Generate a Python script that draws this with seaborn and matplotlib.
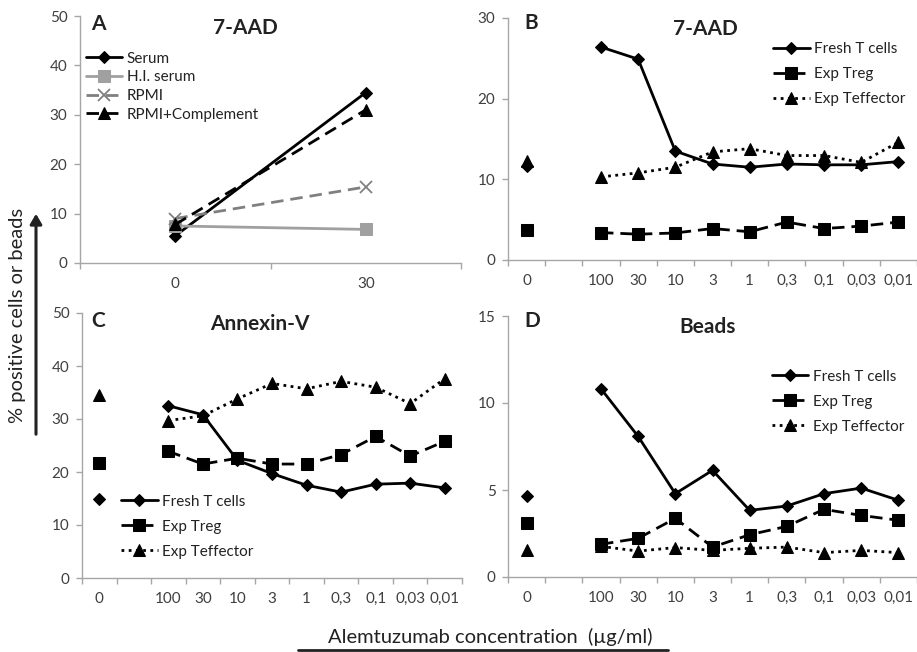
import numpy as np
import pandas as pd
import matplotlib
matplotlib.use("Agg")
import matplotlib.pyplot as plt
import seaborn as sns
from matplotlib.patches import FancyArrowPatch
from matplotlib.lines import Line2D
from matplotlib.ticker import FixedLocator

sns.set_theme(style="white")
plt.rcParams['font.family'] = ['Lato', 'DejaVu Sans']

# ---------------- data ----------------
a_labels = ["0", "30"]
a_series = ["Serum", "H.I. serum", "RPMI", "RPMI+Complement"]
a_serum = [5.5, 34.5]
a_hi_serum = [7.5, 6.8]
a_rpmi = [9.0, 15.4]
a_rpmi_compl = [7.8, 31.0]

conc_labels = ["0", "", "100", "30", "10", "3", "1", "0,3", "0,1", "0,03", "0,01"]
cell_series = ["Fresh T cells", "Exp Treg", "Exp Teffector"]

b_fresh0, b_treg0, b_teff0 = 11.7, 3.7, 12.3
b_fresh = [26.4, 24.9, 13.5, 11.9, 11.5, 11.9, 11.8, 11.8, 12.2]
b_treg = [3.4, 3.2, 3.35, 3.9, 3.5, 4.7, 3.9, 4.2, 4.7]
b_teff = [10.3, 10.8, 11.5, 13.4, 13.8, 12.95, 12.95, 12.1, 14.6]

c_fresh0, c_treg0, c_teff0 = 15.0, 21.7, 34.6
c_fresh = [32.5, 30.8, 22.2, 19.7, 17.5, 16.2, 17.7, 17.9, 17.0]
c_treg = [23.9, 21.5, 22.6, 21.5, 21.5, 23.3, 26.7, 23.0, 25.8]
c_teff = [29.7, 30.6, 33.8, 36.7, 35.7, 37.1, 36.0, 32.9, 37.6]

d_fresh0, d_treg0, d_teff0 = 4.66, 3.12, 1.53
d_fresh = [10.82, 8.08, 4.79, 6.13, 3.83, 4.08, 4.79, 5.11, 4.41]
d_treg = [1.88, 2.22, 3.37, 1.72, 2.43, 2.91, 3.89, 3.54, 3.26]
d_teff = [1.76, 1.49, 1.69, 1.53, 1.65, 1.72, 1.40, 1.53, 1.40]

# ---------------- style ----------------
SPINE = "#a6a6a6"
TXT = "#404040"
LW = 2.0
styles_cells = [
    dict(color="black", linestyle="-", marker="D", markersize=6.5),
    dict(color="black", linestyle=(0, (4.5, 2.5)), marker="s", markersize=9),
    dict(color="black", linestyle=(0, (1, 1.6)), marker="^", markersize=9),
]
styles_a = [
    dict(color="black", linestyle="-", marker="D", markersize=6.5),
    dict(color="#a0a0a0", linestyle="-", marker="s", markersize=9),
    dict(color="#808080", linestyle=(0, (4.5, 2.5)), marker="x", markersize=8, markeredgewidth=1.3),
    dict(color="black", linestyle=(0, (4.5, 2.5)), marker="^", markersize=9),
]

fig = plt.figure(figsize=(9.17, 6.52), dpi=100)
W, H = 917, 652


def make_ax(x0, y0, x1, y1):
    return fig.add_axes([x0 / W, 1 - y1 / H, (x1 - x0) / W, (y1 - y0) / H])


def style_ax(ax, labels, ymax, ystep):
    n = len(labels)
    ax.set_xlim(-0.5, n - 0.5)
    ax.set_ylim(0, ymax)
    ax.set_yticks(np.arange(0, ymax + 0.01, ystep))
    ax.set_yticklabels([f"{int(v)}" for v in np.arange(0, ymax + 0.01, ystep)])
    ax.set_xticks(range(n))
    ax.set_xticklabels(labels)
    ax.xaxis.set_minor_locator(FixedLocator(np.arange(-0.5, n, 1.0)))
    for s in ["top", "right"]:
        ax.spines[s].set_visible(False)
    for s in ["left", "bottom"]:
        ax.spines[s].set_color(SPINE)
        ax.spines[s].set_linewidth(1.0)
    ax.tick_params(axis="x", which="major", length=0, pad=10, labelsize=11, labelcolor=TXT)
    ax.tick_params(axis="x", which="minor", length=4, width=1, color=SPINE, direction="out", bottom=True)
    ax.tick_params(axis="y", which="major", length=4, width=1, color=SPINE, direction="out",
                   left=True, pad=5, labelsize=11, labelcolor=TXT)
    ax.set_xlabel("")
    ax.set_ylabel("")
    ax.grid(False)


def title(ax, letter, txt, lx, ly, tx, ty):
    ax.text(lx, ly, letter, transform=ax.transAxes, fontsize=15, fontweight="bold",
            ha="center", va="center", color="#222222")
    ax.text(tx, ty, txt, transform=ax.transAxes, fontsize=15, fontweight="bold",
            ha="center", va="center", color="#222222")


def cell_panel(ax, vals0, series_vals, ymax, ystep):
    handles = []
    xs = list(range(2, len(conc_labels)))
    for name, v0, vals, st in zip(cell_series, vals0, series_vals, styles_cells):
        df = pd.DataFrame({"x": xs, "y": vals})
        sns.lineplot(data=df, x="x", y="y", ax=ax, linewidth=LW, sort=False,
                     markeredgecolor=st["color"], **st)
        handles.append(ax.lines[-1])
        df0 = pd.DataFrame({"x": [0], "y": [v0]})
        st0 = dict(st)
        st0["linestyle"] = "none"
        sns.lineplot(data=df0, x="x", y="y", ax=ax, markeredgecolor=st["color"], **st0)
    style_ax(ax, conc_labels, ymax, ystep)
    return handles


def legend(ax, handles, labels, x, y, spacing):
    leg = ax.legend(handles, labels, loc="upper left", bbox_to_anchor=(x, y), frameon=False,
                    fontsize=11, handlelength=2.4, handletextpad=0.3, labelspacing=spacing,
                    numpoints=1, borderaxespad=0, borderpad=0)
    for t in leg.get_texts():
        t.set_color("#222222")


# ---- Panel A ----
axA = make_ax(80, 16, 461, 263)
hA = []
for name, vals, st in zip(a_series, [a_serum, a_hi_serum, a_rpmi, a_rpmi_compl], styles_a):
    df = pd.DataFrame({"x": list(range(len(a_labels))), "y": vals})
    sns.lineplot(data=df, x="x", y="y", ax=axA, linewidth=LW, sort=False,
                 markeredgecolor=st["color"], **st)
    hA.append(axA.lines[-1])
style_ax(axA, a_labels, 50, 10)
legend(axA, hA, a_series, 0.015, 0.855, 0.3)
title(axA, "A", "7-AAD", 0.047, 0.968, 0.434, 0.951)

# ---- Panel B ----
axB = make_ax(508, 18, 917, 260)
hB = cell_panel(axB, [b_fresh0, b_treg0, b_teff0], [b_fresh, b_treg, b_teff], 30, 10)
legend(axB, hB, cell_series, 0.648, 0.90, 0.72)
title(axB, "B", "7-AAD", 0.056, 0.979, 0.482, 0.955)

# ---- Panel C ----
axC = make_ax(82, 313, 462, 578)
hC = cell_panel(axC, [c_fresh0, c_treg0, c_teff0], [c_fresh, c_treg, c_teff], 50, 10)
legend(axC, hC, cell_series, 0.103, 0.315, 0.72)
title(axC, "C", "Annexin-V", 0.042, 0.97, 0.468, 0.958)

# ---- Panel D ----
axD = make_ax(508, 316, 917, 577)
hD = cell_panel(axD, [d_fresh0, d_treg0, d_teff0], [d_fresh, d_treg, d_teff], 15, 5)
legend(axD, hD, cell_series, 0.645, 0.795, 0.72)
title(axD, "D", "Beads", 0.059, 0.98, 0.487, 0.958)

# ---- figure-level labels ----
fig.text(18 / W, 1 - 315 / H, "% positive cells or beads", rotation=90, fontsize=14.5,
         ha="center", va="center", color="#222222")
arrow = FancyArrowPatch((36 / W, 1 - 437 / H), (36 / W, 1 - 211 / H), transform=fig.transFigure,
                        arrowstyle="-|>,head_length=6,head_width=3.5", linewidth=2.2,
                        color="#222222", mutation_scale=1)
fig.add_artist(arrow)

fig.text(490 / W, 1 - 637 / H, "Alemtuzumab concentration  (µg/ml)", fontsize=14.5,
         ha="center", va="center", color="#222222")
fig.add_artist(Line2D([298 / W, 668 / W], [1 - 650 / H, 1 - 650 / H], transform=fig.transFigure,
                      color="#222222", linewidth=2.0))

fig.savefig("out.png", dpi=100)
